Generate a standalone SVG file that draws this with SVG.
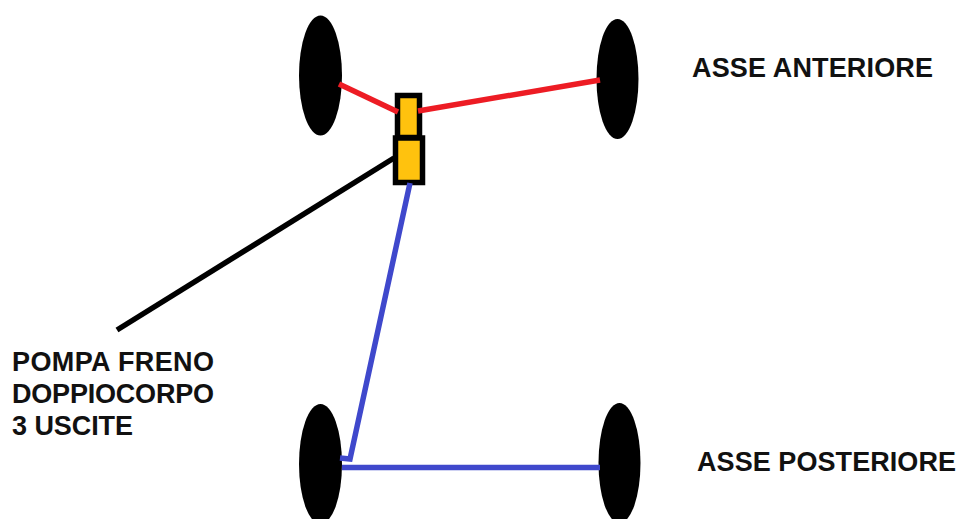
<svg xmlns="http://www.w3.org/2000/svg" width="959" height="519" viewBox="0 0 959 519">
<style>
.wheel{fill:#000}
.pump{fill:#ffc20e;stroke:#000;stroke-width:5.5}
.c{fill:none;stroke-width:5.5}
.red{stroke:#ed1c24}
.blue{stroke:#3f48cc}
.blk{stroke:#000}
text{font-family:"Liberation Sans",Arial,sans-serif;font-weight:bold;font-size:27px;fill:#111}
</style>
<rect width="959" height="519" fill="#fff"/>
<g id="wheel-front-left"><ellipse class="wheel" cx="320.500" cy="75.500" rx="21.500" ry="60"/></g>
<g id="wheel-front-right"><ellipse class="wheel" cx="617.500" cy="79" rx="21" ry="60"/></g>
<g id="wheel-rear-left"><ellipse class="wheel" cx="320.500" cy="464" rx="21.500" ry="60"/></g>
<g id="wheel-rear-right"><ellipse class="wheel" cx="619.500" cy="463" rx="21" ry="60"/></g>
<g id="pump-upper"><rect class="pump" x="397.500" y="95.500" width="22" height="42"/></g>
<g id="pump-lower"><rect class="pump" x="395.500" y="138" width="27" height="44.500"/></g>
<g id="connectors">
<path class="c red" d="M339 84L398 112"/>
<path class="c red" d="M418 111L600 80"/>
<path class="c blk" d="M394 158L117 330"/>
<path class="c blue" d="M410 183L350 459L340 458"/>
<path class="c blue" d="M342 467.500H600"/>
</g>
<g id="label-front"><text x="692" y="77" textLength="241">ASSE ANTERIORE</text></g>
<g id="label-rear"><text x="697" y="470.500" textLength="259">ASSE POSTERIORE</text></g>
<g id="label-pump"><text x="12" y="370.500" textLength="202">POMPA FRENO</text><text x="12" y="403" textLength="202">DOPPIOCORPO</text><text x="12" y="435" textLength="121">3 USCITE</text></g>
</svg>
